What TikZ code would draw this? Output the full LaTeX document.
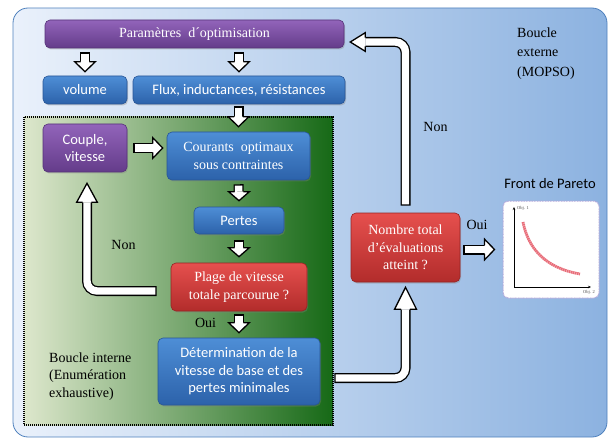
\documentclass[tikz,border=0pt]{standalone}
\usepackage{fontspec}
\setmainfont{Liberation Serif}
\newfontfamily\calib{Carlito}
\newfontfamily\tms{Liberation Serif}
\usetikzlibrary{calc,shadows,arrows.meta}
\definecolor{outerL}{RGB}{234,241,251}
\definecolor{outerR}{RGB}{140,178,224}
\definecolor{outerD}{RGB}{79,129,189}
\definecolor{grnL}{RGB}{221,231,204}
\definecolor{grnM}{RGB}{155,187,89}
\definecolor{grnR}{RGB}{22,105,22}
\definecolor{bluT}{RGB}{78,142,214}
\definecolor{bluB}{RGB}{44,98,170}
\definecolor{bluD}{RGB}{40,85,150}
\definecolor{purT}{RGB}{146,100,186}
\definecolor{purB}{RGB}{100,60,138}
\definecolor{purD}{RGB}{85,50,120}
\definecolor{redT}{RGB}{230,80,78}
\definecolor{redB}{RGB}{178,44,43}
\definecolor{redD}{RGB}{150,35,35}
\definecolor{parBrd}{RGB}{178,168,218}
\definecolor{parCurve}{RGB}{228,84,98}
\newcommand\blkhead[4]{\begin{scope}[shift={(#1)}, rotate=#2]
  \filldraw[fill=white, draw=black, line width=1.3pt, line join=miter, line cap=butt]
   (-#3,4.35) -- (-#3,#4) -- (0,0) -- (-#3,-#4) -- (-#3,-4.35);
  \end{scope}}
\newcommand\blkarrow[4]{%
  \draw[line width=10pt, black] (#1) -- ($(#2)!#4pt!(#1)$);
  \draw[line width=7.4pt, white] ($(#1)!1.3pt!(#2)$) -- ($(#2)!#4pt!(#1)$);
  \blkhead{#2}{#3}{#4}{10.35}}
\newcommand\blkbent[6]{%
  \draw[line width=10pt, black, rounded corners=10pt] (#1) -- (#2) -- ($(#3)!#5pt!(#2)$);
  \draw[line width=7.4pt, white, rounded corners=10pt] ($(#1)!1.3pt!(#2)$) -- (#2) -- ($(#3)!#5pt!(#2)$);
  \blkhead{#3}{#4}{#5}{#6}}
\tikzset{
  box/.style={rounded corners=5pt, inner sep=0pt, text=white, align=center, line width=0.6pt,
    drop shadow={opacity=0.35, shadow xshift=1pt, shadow yshift=-1.5pt},
    font=\calib\fontsize{14.5}{17.5}\selectfont},
  serifbox/.style={font=\tms\fontsize{14}{17.5}\selectfont},
  bluebox/.style={box, draw=bluD, top color=bluT, bottom color=bluB},
  purplebox/.style={box, draw=purD, top color=purT, bottom color=purB},
  redbox/.style={box, draw=redD, top color=redT, bottom color=redB},
  lbl/.style={inner sep=0pt, font=\tms\fontsize{14}{17.5}\selectfont},
}
\begin{document}
\begin{tikzpicture}[x=1pt,y=-1pt]
\useasboundingbox (0,0) rectangle (608,441);
% outer loop
\draw[rounded corners=15pt, draw=outerD, line width=0.8pt, left color=outerL, right color=outerR] (13,8) rectangle (607,437);
% inner loop
\draw[dash pattern=on 1pt off 1pt, line width=1.5pt, left color=grnL, middle color=grnM, right color=grnR] (24,117) rectangle (333,425);

% nodes
\node[purplebox, serifbox, minimum width=299pt, minimum height=28pt] (param) at (194.5,34) {Paramètres\ \ d´optimisation};
\node[bluebox, minimum width=84pt, minimum height=28pt] (vol) at (85,90) {volume};
\node[bluebox, minimum width=212pt, minimum height=28pt] (flux) at (239,90) {Flux, inductances, résistances};
\node[purplebox, minimum width=84pt, minimum height=48pt] (couple) at (85,148) {Couple,\\vitesse};
\node[bluebox, serifbox, minimum width=143pt, minimum height=48pt] (courants) at (238.5,156) {Courants\ \ optimaux\\sous contraintes};
\node[bluebox, minimum width=90pt, minimum height=27pt] (pertes) at (239,220.5) {Pertes};
\node[redbox, serifbox, minimum width=136pt, minimum height=48pt] (plage) at (239,287) {Plage de vitesse\\totale parcourue ?};
\node[bluebox, minimum width=162pt, minimum height=67pt] (det) at (239,371.5) {Détermination de la\\vitesse de base et des\\pertes minimales};
\node[redbox, serifbox, minimum width=109pt, minimum height=69pt] (nombre) at (405.5,247.5) {Nombre total\\d’évaluations\\atteint ?};
\node[draw=parBrd, dash pattern=on 1pt off 0.6pt, line width=1pt, fill=white, rounded corners=5pt, minimum width=96pt, minimum height=97pt, inner sep=0pt] (pareto) at (551,249.5) {};

% labels
\node[lbl] (non1) at (123.5,245) {Non};
\node[lbl] (oui1) at (205.5,323) {Oui};
\node[lbl] (non2) at (435.5,127) {Non};
\node[lbl] (oui2) at (477,225) {Oui};
\node[lbl, anchor=north west, align=left, font=\tms\fontsize{14}{19.5}\selectfont] (bext) at (517,27.5) {Boucle\\externe\\(MOPSO)};
\node[lbl, anchor=north west, align=left] (bint) at (49,352.5) {Boucle interne\\(Enumération\\exhaustive)};
\node[inner sep=0pt, font=\calib\fontsize{14.5}{17}\selectfont] (fpar) at (550,184) {Front de Pareto};

% Pareto chart content
\draw[-{Stealth[length=3pt,width=2.5pt]}, line width=0.6pt] (514,287) -- (514,207);
\draw[-{Stealth[length=3pt,width=2.5pt]}, line width=0.6pt] (514,287) -- (591,287);
\draw[parCurve, line width=2.8pt, dash pattern=on 1.6pt off 0.5pt, opacity=0.85] (523,222) .. controls (528,248) and (545,268) .. (580,274);
\node[inner sep=0pt, font=\tms\fontsize{4.5}{5}\selectfont, text=black!70] (obj1) at (523,208) {Obj. 1};
\node[inner sep=0pt, font=\tms\fontsize{4.5}{5}\selectfont, text=black!70] (obj2) at (589,292) {Obj. 2};

% arrow coordinates
\coordinate (c1t) at ($(param.south -| vol.north)+(0,4)$);
\coordinate (c1h) at ($(vol.north)+(0,-4)$);
\coordinate (c2t) at ($(param.south -| flux.north)+(0,4)$);
\coordinate (c2h) at ($(flux.north)+(0,-4)$);
\coordinate (c3t) at ($(flux.south -| courants.north)+(0,2)$);
\coordinate (c3h) at ($(courants.north)+(0,-5)$);
\coordinate (c4t) at ($(couple.east)+(6,0)$);
\coordinate (c4h) at ($(couple.east -| courants.west)+(-4,0)$);
\coordinate (c5t) at ($(courants.south)+(0,4)$);
\coordinate (c5h) at ($(pertes.north)+(0,-6)$);
\coordinate (c6t) at ($(pertes.south)+(0,6)$);
\coordinate (c6h) at ($(plage.north)+(0,-6)$);
\coordinate (c7t) at ($(plage.south)+(0,3)$);
\coordinate (c7h) at ($(det.north)+(0,-5)$);
\coordinate (c8t) at ($(plage.west)+(-14,4)$);
\coordinate (c8h) at ($(couple.south)+(2,11)$);
\coordinate (c8c) at (c8h |- c8t);
\coordinate (c9t) at ($(det.east)+(14,6.5)$);
\coordinate (c9h) at ($(nombre.south)+(0,5)$);
\coordinate (c9c) at (c9h |- c9t);
\coordinate (c10t) at ($(nombre.north)+(0,-7)$);
\coordinate (c10h) at ($(param.east)+(6,8)$);
\coordinate (c10c) at (c10t |- c10h);
\coordinate (c11t) at ($(nombre.east)+(3,2)$);
\coordinate (c11h) at ($(nombre.east -| pareto.west)+(-8,2)$);

% arrows
\blkarrow{c1t}{c1h}{-90}{10}
\blkarrow{c2t}{c2h}{-90}{10}
\blkarrow{c3t}{c3h}{-90}{10}
\blkarrow{c4t}{c4h}{0}{10}
\blkarrow{c5t}{c5h}{-90}{9}
\blkarrow{c6t}{c6h}{-90}{9}
\blkarrow{c7t}{c7h}{-90}{10}
\blkarrow{c11t}{c11h}{0}{10}
\blkbent{c8t}{c8c}{c8h}{90}{19}{10.35}
\blkbent{c9t}{c9c}{c9h}{90}{22}{11}
\blkbent{c10t}{c10c}{c10h}{180}{15}{9.35}
\end{tikzpicture}
\end{document}
